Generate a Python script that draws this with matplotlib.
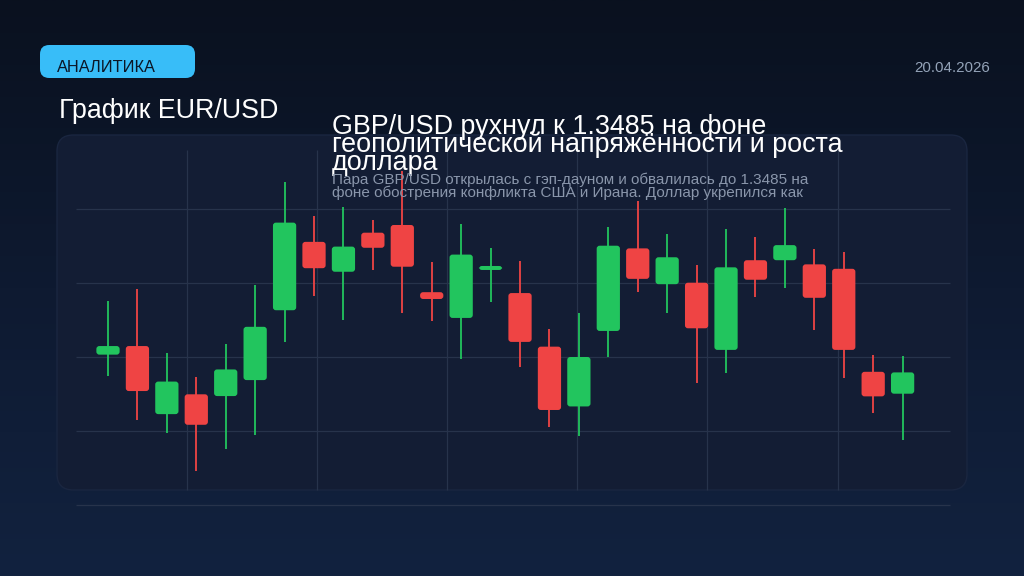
import numpy as np
import matplotlib
matplotlib.use("Agg")
import matplotlib.pyplot as plt
from matplotlib.patches import FancyBboxPatch
from matplotlib.colors import LinearSegmentedColormap

plt.rcParams['font.family'] = ['Liberation Sans', 'DejaVu Sans']

# Данные свечей (цены)
opens = [1.35259, 1.35288, 1.35058, 1.35125, 1.35119, 1.35173, 1.35409, 1.35640,
         1.35539, 1.35671, 1.35697, 1.35470, 1.35383, 1.35545, 1.35467, 1.35286,
         1.35084, 1.35339, 1.35618, 1.35497, 1.35502, 1.35275, 1.35578, 1.35578,
         1.35564, 1.35549, 1.35201, 1.35127]
highs = [1.35440, 1.35481, 1.35266, 1.35183, 1.35296, 1.35493, 1.35841, 1.35726,
         1.35758, 1.35715, 1.35880, 1.35571, 1.35699, 1.35618, 1.35575, 1.35345,
         1.35400, 1.35690, 1.35778, 1.35665, 1.35562, 1.35684, 1.35657, 1.35753,
         1.35617, 1.35605, 1.35257, 1.35253]
lows = [1.35188, 1.35038, 1.34995, 1.34867, 1.34940, 1.34986, 1.35301, 1.35458,
        1.35375, 1.35544, 1.35399, 1.35373, 1.35245, 1.35436, 1.35218, 1.35014,
        1.34984, 1.35251, 1.35470, 1.35399, 1.35162, 1.35196, 1.35455, 1.35485,
        1.35343, 1.35180, 1.35061, 1.34972]
closes = [1.35288, 1.35136, 1.35168, 1.35022, 1.35209, 1.35353, 1.35705, 1.35551,
          1.35624, 1.35620, 1.35556, 1.35447, 1.35597, 1.35558, 1.35302, 1.35072,
          1.35251, 1.35627, 1.35515, 1.35588, 1.35348, 1.35554, 1.35512, 1.35629,
          1.35451, 1.35275, 1.35118, 1.35199]

grid_prices = [1.3475, 1.3500, 1.3525, 1.3550, 1.3575]
grid_x = [2.69, 7.11, 11.53, 15.95, 20.37, 24.79]

badge_text = "АНАЛИТИКА"
date_text = "20.04.2026"
chart_title = "График EUR/USD"
news_title = "GBP/USD рухнул к 1.3485 на фоне\nгеополитической напряжённости и роста\nдоллара"
news_text = ("Пара GBP/USD открылась с гэп-дауном и обвалилась до 1.3485 на\n"
             "фоне обострения конфликта США и Ирана. Доллар укрепился как")

GREEN = '#22c55e'
RED = '#ef4444'
W, H = 1024, 576

fig = plt.figure(figsize=(W / 100, H / 100), dpi=100)

# фон с вертикальным градиентом
bg = fig.add_axes([0, 0, 1, 1])
grad = np.linspace(0, 1, 256).reshape(-1, 1)
cmap = LinearSegmentedColormap.from_list('bg', ['#0a111f', '#0e1a31', '#12223f'])
bg.imshow(grad, aspect='auto', cmap=cmap, extent=[0, 1, 0, 1], origin='upper')
bg.set_xlim(0, 1)
bg.set_ylim(0, 1)
bg.axis('off')

# панель графика
panel = FancyBboxPatch((57 / W, 1 - 490 / H), (967 - 57) / W, (490 - 135) / H,
                       boxstyle="round,pad=0,rounding_size=0.016",
                       mutation_aspect=W / H,
                       transform=bg.transAxes, facecolor='#131d34',
                       edgecolor='#1a2640', linewidth=1.0)
bg.add_patch(panel)

# бейдж
badge = FancyBboxPatch((40 / W, 1 - 78 / H), 155 / W, 33 / H,
                       boxstyle="round,pad=0,rounding_size=0.009",
                       mutation_aspect=W / H,
                       transform=bg.transAxes, facecolor='#38bdf8', edgecolor='none')
bg.add_patch(badge)
bg.text(57 / W, 1 - 72.5 / H, badge_text, color='#0b1626', fontsize=11.8,
        va='baseline', ha='left')
bg.text(990 / W, 1 - 72 / H, date_text, color='#94a3b8', fontsize=10.9,
        va='baseline', ha='right')
bg.text(59 / W, 1 - 118 / H, chart_title, color='white', fontsize=19.3,
        va='baseline', ha='left')

# оси свечного графика
x0_px, dx_px = 108.0, 29.43
px_per_unit = 74 / 0.0025
y_ref_px = 431.3
ax_left, ax_right = 57, 967
ax_top, ax_bot = 135, 514
ax = fig.add_axes([ax_left / W, 1 - ax_bot / H, (ax_right - ax_left) / W, (ax_bot - ax_top) / H])
ax.set_xlim((ax_left - x0_px) / dx_px, (ax_right - x0_px) / dx_px)
ax.set_ylim(1.35 - (ax_bot - y_ref_px) / px_per_unit, 1.35 + (y_ref_px - ax_top) / px_per_unit)
ax.patch.set_alpha(0)
ax.axis('off')

grid_col = '#27334b'
ax.hlines(grid_prices, (76 - x0_px) / dx_px, (950 - x0_px) / dx_px, color=grid_col, lw=0.9)
ax.vlines(grid_x, 1.35 - (490 - y_ref_px) / px_per_unit, 1.35 + (y_ref_px - 150) / px_per_unit,
          color=grid_col, lw=0.9)

body_w = 0.79
aspect = (1 / px_per_unit) / (1 / dx_px)
for i, (o, h, l, c) in enumerate(zip(opens, highs, lows, closes)):
    col = GREEN if c >= o else RED
    ax.vlines(i, l, h, color=col, lw=1.3, zorder=3)
    lo, hi = min(o, c), max(o, c)
    hgt = max(hi - lo, 4 / px_per_unit)
    body = FancyBboxPatch((i - body_w / 2, lo), body_w, hgt,
                          boxstyle="round,pad=0,rounding_size=0.1",
                          mutation_aspect=aspect,
                          facecolor=col, edgecolor='none', zorder=4)
    ax.add_patch(body)

# текст новости поверх графика (baseline = последняя строка)
fig.text(332 / W, 1 - 170 / H, news_title, color='white', fontsize=19.4,
         va='baseline', ha='left', linespacing=0.585, zorder=10)
fig.text(332 / W, 1 - 197.3 / H, news_text, color='#8a96ab', fontsize=11,
         va='baseline', ha='left', linespacing=0.93, zorder=10)

fig.savefig('out.png', dpi=100)
